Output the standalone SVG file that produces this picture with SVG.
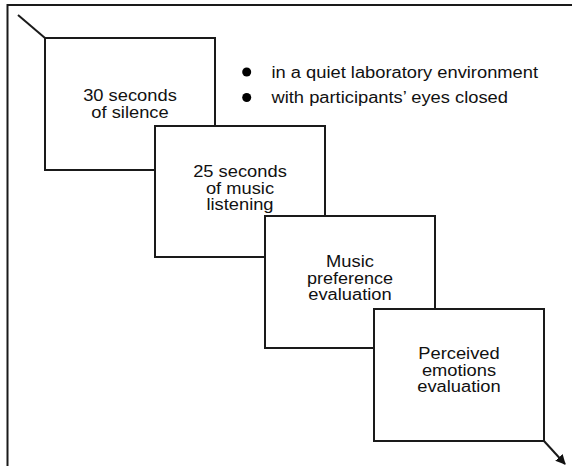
<svg xmlns="http://www.w3.org/2000/svg" width="572" height="466" viewBox="0 0 572 466">
  <defs>
    <marker id="arr" viewBox="0 0 10 10" refX="9" refY="5" markerWidth="5" markerHeight="5" orient="auto" markerUnits="strokeWidth">
      <path d="M0,0 L10,5 L0,10 z" fill="#111"/>
    </marker>
    <style>
      .box { fill: #fff; stroke: #1a1a1a; stroke-width: 2; }
      .ln { fill: none; stroke: #1a1a1a; stroke-width: 2; }
      .t { font-family: "Liberation Sans", Arial, sans-serif; font-size: 16px; fill: #111; text-anchor: middle; }
      .b { font-family: "Liberation Sans", Arial, sans-serif; font-size: 16px; fill: #111; }
    </style>
  </defs>
  <rect width="572" height="466" fill="#fff"/>
  <g id="connectors">
    <path class="ln" d="M7.5,466 V5 H572"/>
    <path class="ln" d="M18,15 L45,38"/>
    <path class="ln" d="M544,441 L565,464" marker-end="url(#arr)"/>
  </g>
  <g id="node1">
    <rect class="box" x="45" y="38" width="170" height="132"/>
    <text class="t" x="130" y="101" textLength="93.6" lengthAdjust="spacingAndGlyphs">30 seconds</text>
    <text class="t" x="130" y="117.5" textLength="77.3" lengthAdjust="spacingAndGlyphs">of silence</text>
  </g>
  <g id="notes">
    <circle cx="246.7" cy="72" r="4.5" fill="#000"/>
    <circle cx="246.7" cy="97.5" r="4.5" fill="#000"/>
    <text class="b" x="271.5" y="77.5" textLength="266.5" lengthAdjust="spacingAndGlyphs">in a quiet laboratory environment</text>
    <text class="b" x="271.5" y="102.5" textLength="236.4" lengthAdjust="spacingAndGlyphs">with participants’ eyes closed</text>
  </g>
  <g id="node2">
    <rect class="box" x="155" y="126" width="170" height="131"/>
    <text class="t" x="240" y="177" textLength="93.6" lengthAdjust="spacingAndGlyphs">25 seconds</text>
    <text class="t" x="240" y="193.5" textLength="68.1" lengthAdjust="spacingAndGlyphs">of music</text>
    <text class="t" x="240" y="210" textLength="67.1" lengthAdjust="spacingAndGlyphs">listening</text>
  </g>
  <g id="node3">
    <rect class="box" x="265" y="216" width="170" height="132"/>
    <text class="t" x="350" y="266.5" textLength="47.8" lengthAdjust="spacingAndGlyphs">Music</text>
    <text class="t" x="350" y="283.5" textLength="86" lengthAdjust="spacingAndGlyphs">preference</text>
    <text class="t" x="350" y="300" textLength="83.4" lengthAdjust="spacingAndGlyphs">evaluation</text>
  </g>
  <g id="node4">
    <rect class="box" x="374" y="309" width="170" height="132"/>
    <text class="t" x="459" y="359" textLength="81.4" lengthAdjust="spacingAndGlyphs">Perceived</text>
    <text class="t" x="459" y="375.7" textLength="74.2" lengthAdjust="spacingAndGlyphs">emotions</text>
    <text class="t" x="459" y="392.3" textLength="83.4" lengthAdjust="spacingAndGlyphs">evaluation</text>
  </g>
</svg>
